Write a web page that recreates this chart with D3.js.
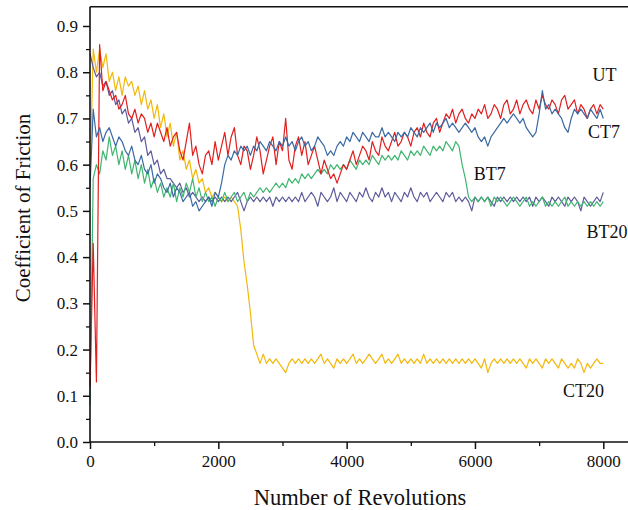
<!DOCTYPE html>
<html>
<head>
<meta charset="utf-8">
<script src="https://cdn.jsdelivr.net/npm/d3@7"></script>
<style>
  body { margin: 0; background: #fff; }
  svg { display: block; }
  text { font-family: "Liberation Serif", "Times New Roman", serif; fill: #111; }
</style>
</head>
<body>
<div id="chart"></div>
<script>
// revolutions, one sample every 50 rev
const revs = d3.range(0, 8001, 50);

const ut = [
  0.12, 0.43, 0.13, 0.86, 0.76, 0.78, 0.76, 0.74, 0.75, 0.72, 0.73, 0.75, 0.71, 0.70, 0.72, 0.69, 0.71, 0.70, 0.67, 0.69,
  0.66, 0.69, 0.67, 0.65, 0.68, 0.64, 0.66, 0.67, 0.63, 0.61, 0.65, 0.69, 0.62, 0.64, 0.60, 0.58, 0.62, 0.63, 0.60, 0.65,
  0.61, 0.64, 0.67, 0.62, 0.66, 0.68, 0.62, 0.60, 0.64, 0.63, 0.59, 0.62, 0.66, 0.63, 0.58, 0.61, 0.64, 0.66, 0.60, 0.65,
  0.63, 0.70, 0.61, 0.59, 0.64, 0.66, 0.62, 0.65, 0.60, 0.62, 0.64, 0.61, 0.58, 0.61, 0.59, 0.57, 0.58, 0.56, 0.58, 0.60,
  0.59, 0.61, 0.63, 0.60, 0.62, 0.64, 0.63, 0.61, 0.65, 0.63, 0.62, 0.66, 0.64, 0.63, 0.65, 0.67, 0.64, 0.65, 0.67, 0.66,
  0.64, 0.67, 0.68, 0.66, 0.69, 0.67, 0.66, 0.69, 0.70, 0.67, 0.69, 0.71, 0.70, 0.72, 0.69, 0.71, 0.72, 0.70, 0.69, 0.71,
  0.70, 0.72, 0.71, 0.73, 0.70, 0.71, 0.73, 0.72, 0.70, 0.73, 0.74, 0.71, 0.72, 0.74, 0.71, 0.73, 0.74, 0.72, 0.71, 0.74,
  0.72, 0.75, 0.73, 0.72, 0.74, 0.73, 0.71, 0.74, 0.75, 0.72, 0.73, 0.74, 0.71, 0.73, 0.72, 0.70, 0.72, 0.73, 0.71, 0.73,
  0.72
];

const ct7 = [
  0.55, 0.72, 0.66, 0.68, 0.65, 0.67, 0.68, 0.66, 0.64, 0.66, 0.65, 0.63, 0.62, 0.64, 0.61, 0.60, 0.62, 0.59, 0.58, 0.60,
  0.56, 0.58, 0.57, 0.55, 0.54, 0.56, 0.53, 0.55, 0.54, 0.52, 0.53, 0.54, 0.51, 0.52, 0.50, 0.51, 0.52, 0.53, 0.51, 0.54,
  0.53, 0.56, 0.60, 0.62, 0.61, 0.63, 0.62, 0.64, 0.63, 0.64, 0.62, 0.64, 0.63, 0.65, 0.64, 0.63, 0.65, 0.64, 0.63, 0.65,
  0.64, 0.66, 0.64, 0.65, 0.63, 0.65, 0.66, 0.64, 0.65, 0.63, 0.64, 0.66, 0.65, 0.64, 0.62, 0.63, 0.62, 0.64, 0.65, 0.64,
  0.66, 0.65, 0.67, 0.66, 0.65, 0.67, 0.66, 0.65, 0.67, 0.66, 0.66, 0.68, 0.66, 0.67, 0.66, 0.65, 0.67, 0.66, 0.67, 0.66,
  0.68, 0.67, 0.66, 0.68, 0.67, 0.68, 0.69, 0.67, 0.69, 0.68, 0.69, 0.70, 0.68, 0.69, 0.68, 0.67, 0.68, 0.69, 0.68, 0.67,
  0.68, 0.66, 0.65, 0.66, 0.64, 0.66, 0.67, 0.68, 0.69, 0.70, 0.69, 0.70, 0.71, 0.70, 0.69, 0.70, 0.68, 0.67, 0.66, 0.67,
  0.71, 0.76, 0.72, 0.73, 0.71, 0.72, 0.71, 0.70, 0.68, 0.67, 0.70, 0.72, 0.71, 0.72, 0.71, 0.70, 0.72, 0.71, 0.70, 0.72,
  0.70
];

const bt7 = [
  0.08, 0.57, 0.60, 0.58, 0.63, 0.61, 0.66, 0.62, 0.64, 0.60, 0.63, 0.59, 0.62, 0.58, 0.61, 0.57, 0.60, 0.56, 0.59, 0.55,
  0.57, 0.54, 0.56, 0.53, 0.55, 0.53, 0.56, 0.52, 0.55, 0.53, 0.56, 0.54, 0.57, 0.53, 0.55, 0.52, 0.54, 0.52, 0.53, 0.51,
  0.53, 0.52, 0.54, 0.52, 0.53, 0.54, 0.52, 0.53, 0.54, 0.52, 0.54, 0.53, 0.54, 0.55, 0.54, 0.55, 0.54, 0.55, 0.56, 0.55,
  0.56, 0.55, 0.57, 0.56, 0.57, 0.56, 0.58, 0.57, 0.58, 0.57, 0.58, 0.59, 0.58, 0.59, 0.58, 0.60, 0.59, 0.60, 0.59, 0.60,
  0.59, 0.61, 0.60, 0.59, 0.61, 0.60, 0.61, 0.60, 0.62, 0.61, 0.60, 0.62, 0.61, 0.62, 0.61, 0.62, 0.61, 0.63, 0.62, 0.61,
  0.63, 0.62, 0.63, 0.62, 0.64, 0.63, 0.62, 0.64, 0.63, 0.64, 0.63, 0.65, 0.64, 0.63, 0.65, 0.64, 0.60, 0.57, 0.53, 0.52,
  0.53, 0.52, 0.53, 0.52, 0.53, 0.51, 0.53, 0.52, 0.53, 0.52, 0.51, 0.52, 0.53, 0.52, 0.51, 0.52, 0.53, 0.51, 0.52, 0.51,
  0.52, 0.53, 0.51, 0.52, 0.51, 0.52, 0.51, 0.52, 0.53, 0.51, 0.52, 0.51, 0.52, 0.51, 0.52, 0.51, 0.52, 0.51, 0.52, 0.51,
  0.52
];

const bt20 = [
  0.84, 0.81, 0.79, 0.80, 0.77, 0.78, 0.75, 0.76, 0.73, 0.74, 0.71, 0.72, 0.69, 0.70, 0.67, 0.68, 0.65, 0.66, 0.62, 0.63,
  0.60, 0.61, 0.58, 0.59, 0.57, 0.57, 0.56, 0.55, 0.56, 0.54, 0.55, 0.53, 0.54, 0.53, 0.52, 0.53, 0.52, 0.53, 0.52, 0.53,
  0.52, 0.53, 0.52, 0.53, 0.52, 0.53, 0.54, 0.52, 0.50, 0.52, 0.53, 0.52, 0.53, 0.52, 0.53, 0.52, 0.53, 0.51, 0.53, 0.52,
  0.53, 0.52, 0.53, 0.52, 0.53, 0.52, 0.54, 0.52, 0.53, 0.54, 0.53, 0.51, 0.54, 0.53, 0.52, 0.53, 0.55, 0.52, 0.54, 0.53,
  0.52, 0.54, 0.53, 0.52, 0.54, 0.53, 0.55, 0.53, 0.52, 0.54, 0.53, 0.55, 0.53, 0.54, 0.52, 0.54, 0.53, 0.52, 0.54, 0.53,
  0.55, 0.53, 0.52, 0.54, 0.53, 0.54, 0.52, 0.53, 0.54, 0.53, 0.52, 0.54, 0.53, 0.54, 0.52, 0.53, 0.52, 0.53, 0.52, 0.50,
  0.53, 0.52, 0.53, 0.52, 0.53, 0.52, 0.51, 0.53, 0.52, 0.53, 0.52, 0.53, 0.52, 0.53, 0.52, 0.53, 0.52, 0.53, 0.51, 0.53,
  0.52, 0.53, 0.52, 0.51, 0.53, 0.52, 0.53, 0.52, 0.51, 0.53, 0.52, 0.53, 0.52, 0.50, 0.53, 0.52, 0.51, 0.52, 0.53, 0.52,
  0.54
];

const ct20 = [
  0.57, 0.85, 0.80, 0.85, 0.81, 0.84, 0.78, 0.80, 0.76, 0.79, 0.75, 0.79, 0.77, 0.78, 0.75, 0.77, 0.73, 0.76, 0.72, 0.74,
  0.70, 0.73, 0.68, 0.71, 0.66, 0.69, 0.64, 0.67, 0.61, 0.63, 0.59, 0.61, 0.57, 0.59, 0.56, 0.57, 0.54, 0.55, 0.53, 0.54,
  0.53, 0.52, 0.53, 0.52, 0.53, 0.52, 0.51, 0.46, 0.39, 0.34, 0.28, 0.21, 0.19, 0.17, 0.19, 0.17, 0.18, 0.17, 0.18, 0.17,
  0.16, 0.15, 0.17, 0.18, 0.17, 0.18, 0.17, 0.18, 0.17, 0.18, 0.17, 0.18, 0.19, 0.17, 0.18, 0.17, 0.16, 0.18, 0.17, 0.18,
  0.17, 0.18, 0.19, 0.17, 0.18, 0.17, 0.18, 0.19, 0.18, 0.17, 0.18, 0.19, 0.17, 0.18, 0.17, 0.18, 0.19, 0.17, 0.18, 0.17,
  0.18, 0.17, 0.18, 0.17, 0.19, 0.17, 0.18, 0.17, 0.18, 0.17, 0.18, 0.17, 0.18, 0.17, 0.18, 0.17, 0.18, 0.17, 0.18, 0.17,
  0.18, 0.17, 0.16, 0.18, 0.15, 0.17, 0.18, 0.17, 0.18, 0.17, 0.18, 0.17, 0.18, 0.17, 0.18, 0.17, 0.16, 0.18, 0.17, 0.18,
  0.17, 0.16, 0.18, 0.17, 0.18, 0.17, 0.16, 0.18, 0.17, 0.16, 0.17, 0.16, 0.18, 0.17, 0.15, 0.17, 0.16, 0.17, 0.18, 0.17,
  0.17
];

const seriesNames = ["CT20", "BT20", "BT7", "UT", "CT7"];
const seriesValues = [ct20, bt20, bt7, ut, ct7];
const seriesColors = ["#f2b80c", "#5d5b9b", "#3fb570", "#e11f1f", "#3a6aa3"];

// where each curve label sits, in data units (rev, cof)
const labelRev = [7370, 7740, 5980, 7830, 7760];
const labelCof = [0.097, 0.442, 0.567, 0.781, 0.658];

const xTicks = [0, 2000, 4000, 6000, 8000];
const yTicks = [0, 0.1, 0.2, 0.3, 0.4, 0.5, 0.6, 0.7, 0.8, 0.9];

const W = 628, H = 510;
const serif = "'Liberation Serif', 'Times New Roman', serif";

const svg = d3.select("#chart").append("svg")
    .attr("width", W)
    .attr("height", H);

const x = d3.scaleLinear().domain([0, 8000]).range([90, 603.3]);
const y = d3.scaleLinear().domain([0, 0.9]).range([442, 26]);

// plot frame (top edge, right side runs off the picture)
svg.append("line")
    .attr("x1", x(0)).attr("x2", W)
    .attr("y1", y(0.9415)).attr("y2", y(0.9415))
    .attr("stroke", "#111")
    .attr("stroke-width", 1.5);

// minor ticks
svg.append("g")
    .attr("transform", `translate(0,${y(0)})`)
    .call(d3.axisBottom(x).tickValues(d3.range(1000, 8001, 2000)).tickSize(4).tickFormat(""))
    .call(g => g.select(".domain").remove())
    .selectAll("line").attr("stroke-width", 1.3).attr("stroke", "#111");

svg.append("g")
    .attr("transform", `translate(${x(0)},0)`)
    .call(d3.axisLeft(y).tickValues(d3.range(0.05, 0.95, 0.1)).tickSize(4).tickFormat(""))
    .call(g => g.select(".domain").remove())
    .selectAll("line").attr("stroke-width", 1.3).attr("stroke", "#111");

// lines
const line = d3.line()
    .x((d, i) => x(revs[i]))
    .y(d => y(d));

svg.append("g")
    .selectAll("path")
    .data(seriesValues)
    .enter()
    .append("path")
    .attr("d", d => line(d))
    .attr("fill", "none")
    .attr("stroke", (d, i) => seriesColors[i])
    .attr("stroke-width", 1.2)
    .attr("stroke-linejoin", "round");

// axes
const xAxis = svg.append("g")
    .attr("transform", `translate(0,${y(0)})`)
    .call(d3.axisBottom(x).tickValues(xTicks).tickSize(7).tickPadding(6).tickFormat(d3.format("d")));
xAxis.select(".domain").attr("d", `M${x(0)},0H${W}`).attr("stroke-width", 1.6).attr("stroke", "#111");
xAxis.selectAll("line").attr("stroke-width", 1.5).attr("stroke", "#111");
xAxis.selectAll("text")
    .style("font-size", "17px")
    .style("font-family", serif)
    .attr("fill", "#111");

const yAxis = svg.append("g")
    .attr("transform", `translate(${x(0)},0)`)
    .call(d3.axisLeft(y).tickValues(yTicks).tickSize(7).tickPadding(5).tickFormat(d3.format(".1f")));
yAxis.select(".domain").attr("d", `M0,${y(0)}V${y(0.9415)}`).attr("stroke-width", 1.6).attr("stroke", "#111");
yAxis.selectAll("line").attr("stroke-width", 1.5).attr("stroke", "#111");
yAxis.selectAll("text")
    .style("font-size", "17px")
    .style("font-family", serif)
    .attr("fill", "#111");

// curve labels
svg.append("g")
    .selectAll("text")
    .data(seriesNames)
    .enter()
    .append("text")
    .attr("x", (d, i) => x(labelRev[i]))
    .attr("y", (d, i) => y(labelCof[i]))
    .style("font-family", serif)
    .attr("font-size", "18px")
    .text(d => d);

// axis titles
svg.append("text")
    .attr("x", 360)
    .attr("y", 505)
    .attr("text-anchor", "middle")
    .style("font-family", serif)
    .attr("font-size", "22.5px")
    .text("Number of Revolutions");

svg.append("text")
    .attr("transform", "rotate(-90)")
    .attr("x", -208)
    .attr("y", 30)
    .attr("text-anchor", "middle")
    .style("font-family", serif)
    .attr("font-size", "21px")
    .text("Coefficient of Friction");
</script>
</body>
</html>
